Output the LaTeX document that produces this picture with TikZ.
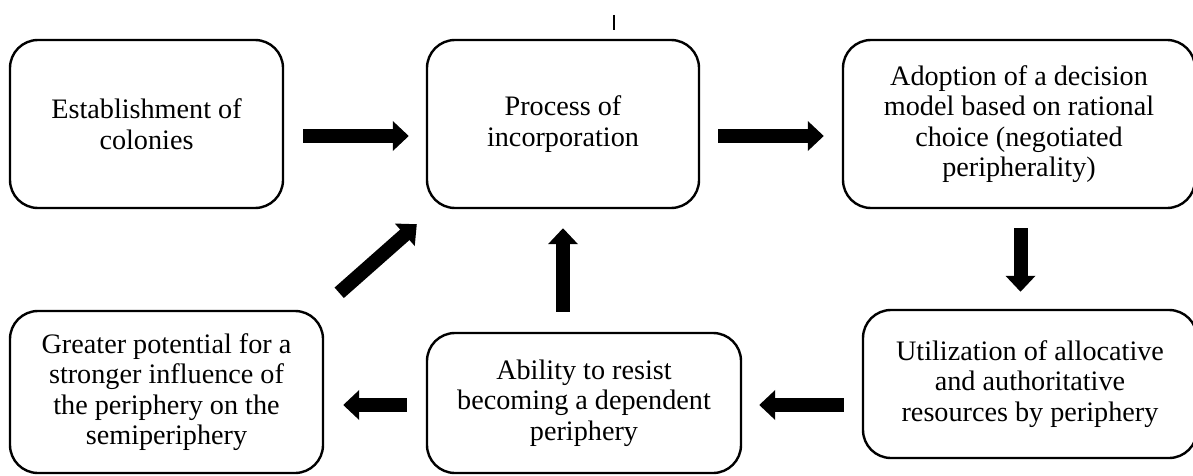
\documentclass[tikz,border=0pt]{standalone}
\usepackage{fontspec}
\setmainfont{Liberation Serif}
\usetikzlibrary{arrows.meta}
\begin{document}
\begin{tikzpicture}[x=1pt,y=1pt,
  stagebox/.style={draw=black, line width=2.4pt, rounded corners=28pt, align=center,
    inner sep=0pt, font=\fontsize{28.2}{30.5}\selectfont, text=black},
  bigarrow/.style={line width=14pt, -{Triangle[length=16pt,width=29pt]}, black}]
\useasboundingbox (0,0) rectangle (1193,-476);
\node[stagebox, minimum width=273pt, minimum height=168pt] (b1) at (146.5,-124) {Establishment of\\colonies};
\node[stagebox, minimum width=272pt, minimum height=168pt] (b2) at (563,-124) {Process of\\incorporation};
\node[stagebox, minimum width=352pt, minimum height=168pt] (b3) at (1019,-124) {Adoption of a decision\\model based on rational\\choice (negotiated\\peripherality)};
\node[stagebox, minimum width=334pt, minimum height=148pt] (b4) at (1030,-384) {Utilization of allocative\\and authoritative\\resources by periphery};
\node[stagebox, minimum width=314pt, minimum height=140pt] (b5) at (584,-403) {Ability to resist\\becoming a dependent\\periphery};
\node[stagebox, minimum width=313pt, minimum height=162pt] (b6) at (166.5,-392) {Greater potential for a\\stronger influence of\\the periphery on the\\semiperiphery};
\draw[bigarrow] ([shift={(19,-12)}]b1.east) -- ([shift={(-17,-12)}]b2.west);
\draw[bigarrow] ([shift={(18,-12)}]b2.east) -- ([shift={(-18,-12)}]b3.west);
\draw[bigarrow] ([shift={(1.5,-19)}]b3.south) -- ([shift={(-9.5,17)}]b4.north);
\draw[bigarrow] ([shift={(-18,-21)}]b4.west) -- ([shift={(17,-2)}]b5.east);
\draw[bigarrow] ([shift={(-19,-2)}]b5.west) -- ([shift={(19,-13)}]b6.east);
\draw[bigarrow] ([shift={(-21,20)}]b5.north) -- ([shift={(0,-19)}]b2.south);
\draw[bigarrow] ([shift={(15,17)}]b6.north east) -- ([shift={(-9,-15)}]b2.south west);
\draw[line width=1.3pt] (614,-15) -- (614,-30);
\end{tikzpicture}
\end{document}
